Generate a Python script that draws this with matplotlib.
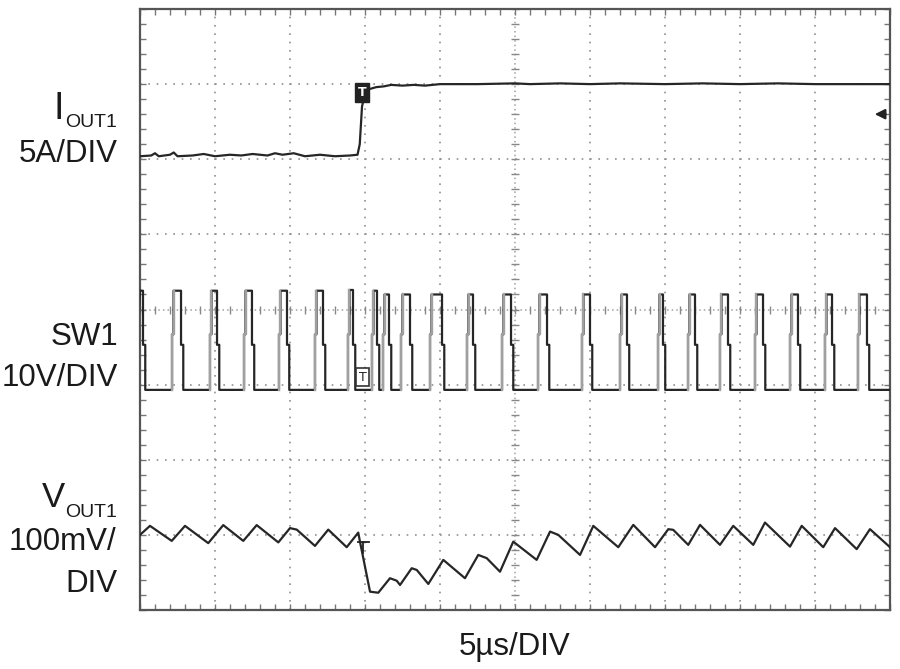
import numpy as np
import matplotlib
matplotlib.use('Agg')
import matplotlib.pyplot as plt

# scope screen: 10 x 8 divisions, values below are in divisions (0 = bottom edge)

# IOUT1 trace (5A/DIV)
iout_t = [0.00, 0.15, 0.20, 0.25, 0.40, 0.45, 0.50, 0.70, 0.85, 1.00, 1.20, 1.35,
          1.50, 1.70, 1.80, 1.90, 2.05, 2.20, 2.40, 2.60, 2.80, 2.90, 2.93, 2.96,
          3.00, 3.03, 3.08, 3.15, 3.25, 3.35, 3.50, 3.65, 3.80, 4.00, 4.50, 5.00,
          5.20, 5.60, 6.00, 6.40, 7.00, 7.50, 8.00, 8.50, 9.00, 9.50, 10.00]
iout = [6.04, 6.05, 6.08, 6.04, 6.06, 6.09, 6.04, 6.05, 6.07, 6.04, 6.06, 6.05,
        6.07, 6.05, 6.08, 6.06, 6.08, 6.04, 6.06, 6.04, 6.05, 6.06, 6.20, 6.70,
        6.88, 6.93, 6.94, 6.96, 6.97, 6.99, 6.98, 6.99, 6.98, 7.00, 7.00, 7.01,
        7.00, 7.01, 7.00, 7.01, 7.00, 7.01, 7.00, 7.01, 7.00, 7.00, 7.00]

# SW1 trace (10V/DIV): switching pulses, rise / fall times and top level
sw_low = 2.93
sw_rise = [-0.06, 0.427, 0.933, 1.387, 1.853, 2.333, 2.773, 3.093, 3.24, 3.48, 3.867,
           4.36, 4.827, 5.307, 5.893, 6.40, 6.907, 7.307, 7.733, 8.20, 8.667, 9.133, 9.573]
sw_fall = [0.04, 0.547, 1.027, 1.493, 1.96, 2.44, 2.84, 3.16, 3.32, 3.60, 4.027,
           4.44, 4.947, 5.427, 6.00, 6.493, 6.973, 7.40, 7.84, 8.307, 8.773, 9.227, 9.693]
sw_top = [4.25, 4.25, 4.25, 4.25, 4.25, 4.25, 4.26, 4.25, 4.20, 4.20, 4.20,
          4.20, 4.20, 4.20, 4.20, 4.20, 4.20, 4.20, 4.20, 4.20, 4.20, 4.20, 4.20]

# VOUT1 trace (100mV/DIV)
vout_t = [0.00, 0.133, 0.423, 0.60, 0.91, 1.11, 1.377, 1.556, 1.844, 2.00, 2.09, 2.333,
          2.51, 2.756, 2.91, 2.933, 3.067, 3.177, 3.333, 3.423, 3.467, 3.623, 3.69,
          3.844, 4.044, 4.333, 4.51, 4.623, 4.80, 4.977, 5.289, 5.467, 5.577, 5.867,
          6.044, 6.377, 6.577, 6.867, 7.044, 7.11, 7.31, 7.467, 7.733, 7.91, 8.177,
          8.333, 8.667, 8.823, 9.11, 9.267, 9.556, 9.733, 10.00]
vout = [1.00, 1.12, 0.92, 1.12, 0.89, 1.13, 0.92, 1.13, 0.90, 1.09, 1.07, 0.853,
        1.07, 0.836, 1.03, 0.91, 0.244, 0.23, 0.423, 0.39, 0.333, 0.556, 0.533,
        0.347, 0.667, 0.423, 0.733, 0.69, 0.51, 0.91, 0.667, 1.044, 1.00, 0.733,
        1.12, 0.836, 1.133, 0.836, 1.076, 1.067, 0.867, 1.133, 0.867, 1.12, 0.867,
        1.164, 0.844, 1.12, 0.836, 1.09, 0.81, 1.076, 0.836]

trace_color = '#262626'
edge_gray = '#a0a0a0'

fig = plt.figure(figsize=(9, 6.69), dpi=100)
ax = fig.add_axes([140 / 900, 59 / 669, 750 / 900, 601 / 669])
ax.set_xlim(0, 10)
ax.set_ylim(0, 8)

# graticule
for x in range(1, 10):
    if x == 5:
        continue
    ax.axvline(x, color='#909090', lw=1.2, ls=(0, (1, 4)), zorder=1)
for y in range(1, 8):
    if y == 4:
        continue
    ax.axhline(y, color='#909090', lw=1.2, ls=(0, (1, 4)), zorder=1)
ax.axvline(5, color='#a0a0a0', lw=1.1, ls=(0, (1, 2)), zorder=1)
ax.axhline(4, color='#a0a0a0', lw=1.1, ls=(0, (1, 2)), zorder=1)
minor_y = np.arange(0, 8.01, 0.2)
minor_x = np.arange(0, 10.01, 0.2)
ax.plot(np.full_like(minor_y, 5), minor_y, ls='none', marker='_', ms=6, mew=1.0,
        color='#888888', zorder=1)
ax.plot(minor_x, np.full_like(minor_x, 4), ls='none', marker='|', ms=6, mew=1.0,
        color='#888888', zorder=1)

ax.set_xticks(minor_x)
ax.set_yticks(minor_y)
ax.tick_params(direction='in', length=4, width=1, color='#777777',
               top=True, right=True, labelbottom=False, labelleft=False)
for side in ['left', 'right', 'top', 'bottom']:
    ax.spines[side].set_color('#555555')
    ax.spines[side].set_linewidth(1.6)

# IOUT1
ax.plot(iout_t, iout, color=trace_color, lw=1.6, zorder=3)

# SW1: build pulse trace from the read edges
sw_x, sw_y = [0.0], [sw_top[0]]
for r, f, top in zip(sw_rise, sw_fall, sw_top):
    sw_x += [r, r, r + 0.02, r + 0.02, f, f, f + 0.03, f + 0.03]
    sw_y += [sw_low, 3.67, 3.67, top, top, 3.53, 3.53, sw_low]
sw_x.append(10.0)
sw_y.append(sw_low)
ax.plot(sw_x, sw_y, color=trace_color, lw=1.6, zorder=3)
for r, top in zip(sw_rise, sw_top):
    ax.plot([r, r, r + 0.02, r + 0.02], [sw_low, 3.67, 3.67, top],
            color=edge_gray, lw=1.7, zorder=4)

# VOUT1
ax.plot(vout_t, vout, color=trace_color, lw=1.6, zorder=3)

# trigger markers
ax.text(2.96, 6.89, 'T', color='white', fontsize=9, fontweight='bold',
        ha='center', va='center', zorder=6,
        bbox=dict(boxstyle='square,pad=0.25', fc='#222222', ec='#222222'))
ax.text(2.97, 3.1, 'T', color='#222222', fontsize=9,
        ha='center', va='center', zorder=6,
        bbox=dict(boxstyle='square,pad=0.2', fc='white', ec='#333333', lw=1.2))
ax.plot([2.90, 3.05], [0.90, 0.90], color='#222222', lw=1.3, zorder=6)
ax.plot([2.97, 2.97], [0.90, 0.76], color='#222222', lw=1.3, zorder=6)

# ground reference arrow on the right
ax.annotate('', xy=(9.76, 6.6), xytext=(9.98, 6.6),
            arrowprops=dict(arrowstyle='-|>', color='#222222', lw=1.5,
                            mutation_scale=15), zorder=6)

# channel labels
fam = ['Liberation Sans', 'DejaVu Sans']
big = 22.5
sub = 14


def px_text(x, y, s, size, ha='right'):
    fig.text(x / 900, 1 - y / 669, s, fontsize=size, family=fam,
             ha=ha, va='baseline', color='#1a1a1a')


px_text(64, 119, 'I', 27)
px_text(65, 127, 'OUT1', sub, ha='left')
px_text(118, 162, '5A/DIV', big)

px_text(118, 345, 'SW1', big)
px_text(118, 386, '10V/DIV', big)

px_text(65, 507, 'V', 25)
px_text(65, 517, 'OUT1', sub, ha='left')
px_text(116, 550, '100mV/', big)
px_text(117, 592, 'DIV', big)

px_text(515, 655, '5\u00b5s/DIV', big, ha='center')

fig.savefig('out.png', dpi=100, facecolor='white')
